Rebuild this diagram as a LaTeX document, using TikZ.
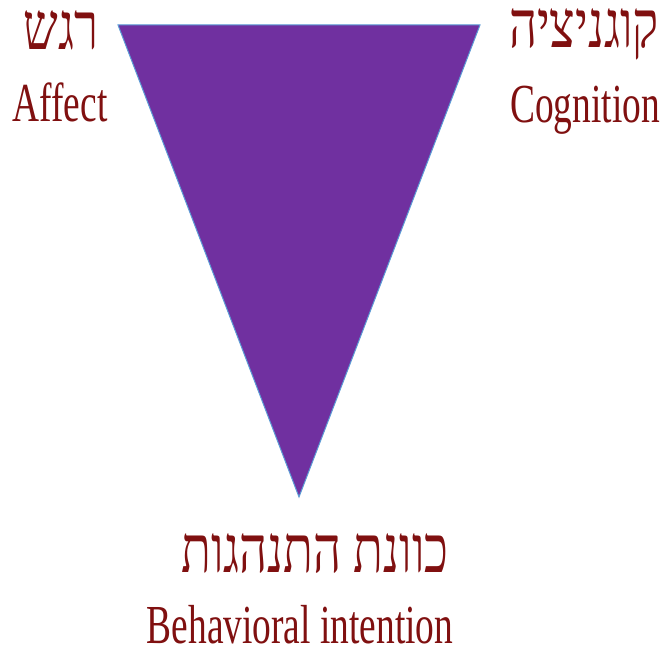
\documentclass[tikz,border=0pt]{standalone}
\usepackage{fontspec}
\usepackage{graphicx}
\setmainfont{Liberation Serif}
\newfontfamily\hebfont[Script=Hebrew]{Liberation Serif}
\TeXXeTstate=1
\definecolor{tri}{RGB}{112,48,160}
\definecolor{triedge}{RGB}{91,155,213}
\definecolor{lbl}{RGB}{128,16,16}
\tikzset{
  lab/.style={anchor=base, inner sep=0pt, text=lbl, font=\fontsize{55}{60}\selectfont},
  hlab/.style={anchor=base, inner sep=0pt, text=lbl, font=\fontsize{66}{70}\selectfont},
}
\newcommand{\sq}[1]{\scalebox{0.68}[1]{#1}}
\newcommand{\heb}[1]{\scalebox{0.74}[1]{\hebfont\beginR #1\endR}}
\begin{document}
\begin{tikzpicture}[x=1pt,y=-1pt]
\useasboundingbox (0,0) rectangle (665,655);
\fill[white] (0,0) rectangle (665,655);
\coordinate (tl) at (118,25);
\coordinate (tr) at (480,25);
\coordinate (ap) at (299,497);
\filldraw[fill=tri, draw=triedge, line width=1pt, line join=miter] (tl) -- (tr) -- (ap) -- cycle;
\node[hlab] (affheb) at (61,50) {\heb{רגש}};
\node[lab] (aff) at (60,122) {\sq{Affect}};
\node[hlab] (cogheb) at (584,48) {\heb{קוגניציה}};
\node[lab] (cog) at (585,123) {\sq{Cognition}};
\node[hlab] (behheb) at (315,572) {\heb{כוונת התנהגות}};
\node[lab] (beh) at (300,643) {\sq{Behavioral intention}};
\end{tikzpicture}
\end{document}
